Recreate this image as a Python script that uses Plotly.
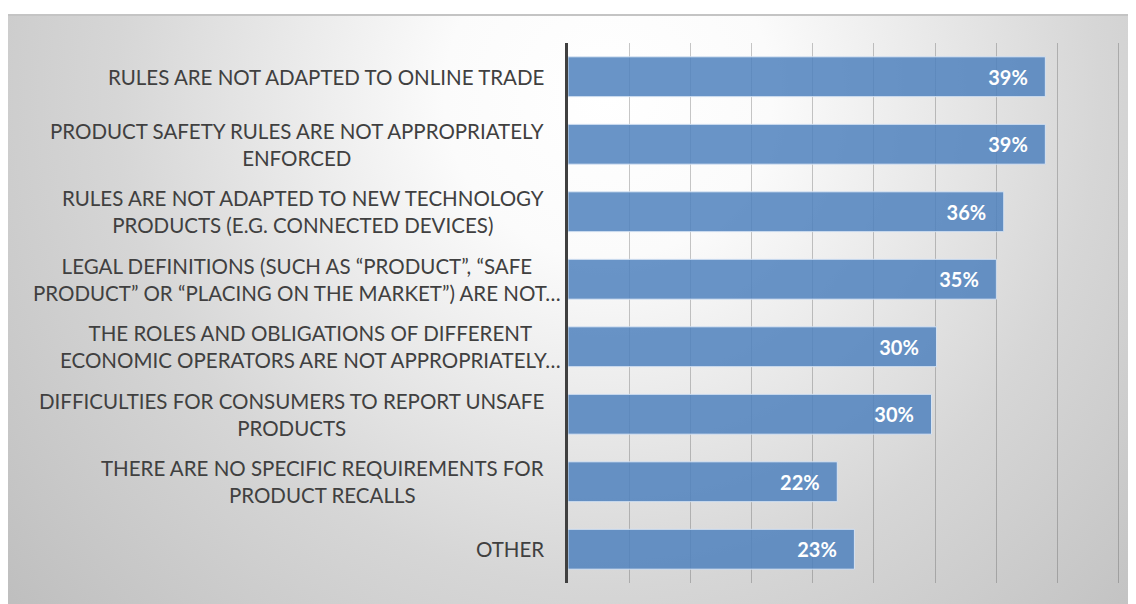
import base64

import plotly.graph_objects as go

CATEGORIES = [
    "RULES ARE NOT ADAPTED TO ONLINE TRADE",
    "PRODUCT SAFETY RULES ARE NOT APPROPRIATELY<br>ENFORCED",
    "RULES ARE NOT ADAPTED TO NEW TECHNOLOGY<br>PRODUCTS (E.G. CONNECTED DEVICES)",
    "LEGAL DEFINITIONS (SUCH AS “PRODUCT”, “SAFE<br>PRODUCT” OR “PLACING ON THE MARKET”) ARE NOT…",
    "THE ROLES AND OBLIGATIONS OF DIFFERENT<br>ECONOMIC OPERATORS ARE NOT APPROPRIATELY…",
    "DIFFICULTIES FOR CONSUMERS TO REPORT UNSAFE<br>PRODUCTS",
    "THERE ARE NO SPECIFIC REQUIREMENTS FOR<br>PRODUCT RECALLS",
    "OTHER",
]
SHARES = [0.39, 0.39, 0.356, 0.35, 0.301, 0.297, 0.22, 0.234]
# labels whose second line overflows sit a bit further right
OVERFLOWING = {3, 4}

# the page has an 8px body margin, so the figure is 8px smaller than the window
W, H = 1128, 596
LEFT, RIGHT, TOP, BOTTOM = 560, 16, 35, 21
plot_w = W - LEFT - RIGHT
plot_h = H - TOP - BOTTOM

# soft radial grey background behind the whole chart
bg_top = 6
bg_w, bg_h = W, H - bg_top
svg = f"""<svg xmlns="http://www.w3.org/2000/svg" width="{bg_w}" height="{bg_h}" viewBox="0 0 {bg_w} {bg_h}" preserveAspectRatio="none">
<defs><radialGradient id="g" gradientUnits="userSpaceOnUse" cx="600" cy="80" r="820">
<stop offset="0" stop-color="#ffffff"/><stop offset="0.2" stop-color="#fbfbfb"/>
<stop offset="0.6" stop-color="#d6d6d6"/><stop offset="1" stop-color="#bcbcbc"/>
</radialGradient></defs>
<rect width="{bg_w}" height="{bg_h}" fill="url(#g)"/>
<line x1="0" y1="1" x2="{bg_w}" y2="1" stroke="#c4c4c4" stroke-width="2"/>
</svg>"""
bg_uri = "data:image/svg+xml;base64," + base64.b64encode(svg.encode()).decode()

ids = list(range(len(CATEGORIES)))

fig = go.Figure(
    go.Bar(
        x=SHARES,
        y=ids,
        orientation="h",
        marker=dict(color="rgba(79,129,189,0.85)", line=dict(color="rgba(220,232,246,0.9)", width=1)),
        texttemplate="%{x:.0%}\u00a0\u00a0\u00a0",
        textposition="inside",
        insidetextanchor="end",
        textangle=0,
        insidetextfont=dict(family="Lato", size=20, color="white", weight="bold"),
        hoverinfo="skip",
    )
)

for i, label in enumerate(CATEGORIES):
    fig.add_annotation(
        x=0,
        y=i,
        xref="paper",
        yref="y",
        text=label,
        showarrow=False,
        xanchor="right",
        yanchor="middle",
        align="center",
        xshift=-5 if i in OVERFLOWING else -22,
        font=dict(family="Lato", size=20.5, color="#404040"),
    )

fig.add_layout_image(
    source=bg_uri,
    xref="paper",
    yref="paper",
    x=-LEFT / plot_w,
    y=(H - BOTTOM - bg_top) / plot_h,
    sizex=bg_w / plot_w,
    sizey=bg_h / plot_h,
    sizing="stretch",
    xanchor="left",
    yanchor="top",
    layer="below",
)

fig.update_layout(
    width=W,
    height=H,
    margin=dict(l=LEFT, r=RIGHT, t=TOP, b=BOTTOM),
    paper_bgcolor="white",
    plot_bgcolor="rgba(0,0,0,0)",
    bargap=0.41,
    showlegend=False,
    xaxis=dict(
        # a hair past 45% so the last gridline is still drawn
        range=[0, 0.451],
        dtick=0.05,
        showgrid=True,
        gridcolor="rgba(80,80,80,0.32)",
        gridwidth=1,
        zeroline=False,
        showticklabels=False,
    ),
    yaxis=dict(
        range=[len(CATEGORIES) - 0.5, -0.5],
        showticklabels=False,
        showgrid=False,
        zeroline=False,
        showline=True,
        linecolor="#404040",
        linewidth=2.5,
    ),
)

fig.write_html("out.html")
